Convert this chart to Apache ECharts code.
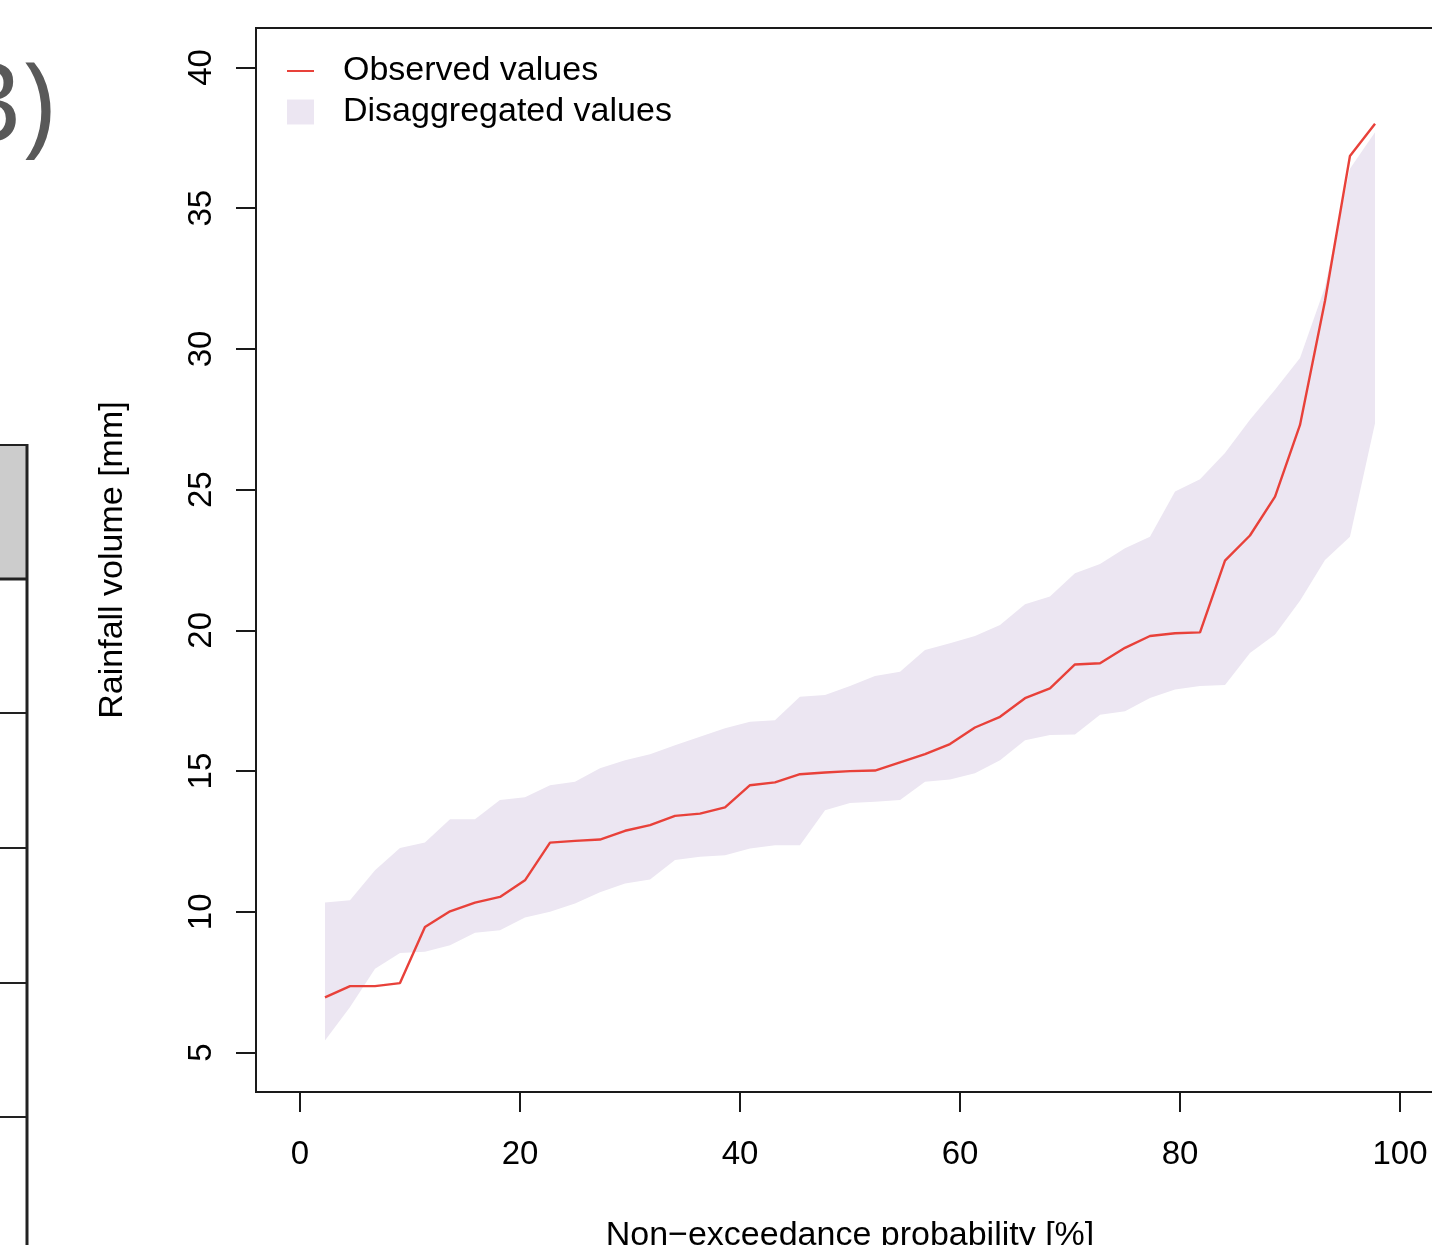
<!DOCTYPE html>
<html>
<head>
<meta charset="utf-8">
<script src="https://cdn.jsdelivr.net/npm/echarts@6/dist/echarts.min.js"></script>
<style>
  html, body { margin: 0; padding: 0; background: #fff; }
  #chart { width: 1432px; height: 1245px; }
</style>
</head>
<body>
<div id="chart"></div>
<script>
// non-exceedance probability of each ranked event [%]
var probX = [2.27, 4.55, 6.82, 9.09, 11.36, 13.64, 15.91, 18.18, 20.45, 22.73,
	25.00, 27.27, 29.55, 31.82, 34.09, 36.36, 38.64, 40.91, 43.18, 45.45,
	47.73, 50.00, 52.27, 54.55, 56.82, 59.09, 61.36, 63.64, 65.91, 68.18,
	70.45, 72.73, 75.00, 77.27, 79.55, 81.82, 84.09, 86.36, 88.64, 90.91,
	93.18, 95.45, 97.73];
// observed rainfall volume [mm]
var observed = [6.96, 7.36, 7.36, 7.47, 9.46, 10.02, 10.33, 10.53, 11.12, 12.46,
	12.52, 12.57, 12.88, 13.08, 13.41, 13.49, 13.71, 14.50, 14.60, 14.89,
	14.95, 15.00, 15.02, 15.31, 15.60, 15.96, 16.55, 16.93, 17.59, 17.94,
	18.79, 18.83, 19.38, 19.80, 19.90, 19.93, 22.48, 23.37, 24.75, 27.30,
	31.70, 36.85, 38.00];
// envelope of the disaggregated values [mm]
var bandUpper = [10.33, 10.41, 11.48, 12.27, 12.46, 13.29, 13.29, 13.97, 14.07, 14.50,
	14.62, 15.10, 15.39, 15.60, 15.92, 16.22, 16.52, 16.75, 16.81, 17.64,
	17.70, 18.02, 18.38, 18.53, 19.30, 19.54, 19.80, 20.19, 20.93, 21.20,
	22.03, 22.36, 22.92, 23.33, 24.93, 25.37, 26.30, 27.48, 28.55, 29.68,
	32.20, 36.40, 37.70];
var bandLower = [5.43, 6.62, 7.98, 8.54, 8.58, 8.81, 9.26, 9.35, 9.80, 10.00,
	10.30, 10.70, 11.01, 11.15, 11.84, 11.96, 12.01, 12.25, 12.37, 12.37,
	13.61, 13.87, 13.91, 13.97, 14.62, 14.70, 14.92, 15.39, 16.10, 16.28,
	16.30, 17.00, 17.13, 17.60, 17.90, 18.02, 18.06, 19.20, 19.85, 21.05,
	22.50, 23.33, 27.36];
var xTicks = [0, 20, 40, 60, 80, 100];
var yTicks = [5, 10, 15, 20, 25, 30, 35, 40];

var lineColor = '#e8413a', bandColor = '#ece6f2', ink = '#1a1a1a';
var font = '"Liberation Sans", Arial, sans-serif';

var obsData = probX.map(function(x, i){ return [x, observed[i]]; });
var bandData = probX.map(function(x, i){ return [x, bandLower[i], bandUpper[i]]; });

function renderBand(params, api){
	if (params.dataIndex !== 0) return null;
	var pts = [], i;
	for (i = 0; i < probX.length; i++) pts.push(api.coord([probX[i], bandUpper[i]]));
	for (i = probX.length - 1; i >= 0; i--) pts.push(api.coord([probX[i], bandLower[i]]));
	return { type: 'polygon', shape: { points: pts }, style: { fill: bandColor } };
}

var option = {
	animation: false,
	backgroundColor: '#fff',
	textStyle: { fontFamily: font },
	grid: {
		left: 256, top: 28, width: 1188, height: 1064,
		show: true, borderColor: ink, borderWidth: 2, backgroundColor: 'transparent',
		containLabel: false, outerBoundsMode: 'none'
	},
	legend: {
		orient: 'vertical', left: 287, top: 54, padding: 0,
		itemWidth: 27, itemHeight: 25, itemGap: 7,
		textStyle: { fontSize: 34, color: '#000', fontFamily: font, padding: [0, 0, 0, 24] },
		data: [
			{ name: 'Observed values', icon: 'path://M0,0 H27 V2 H0 Z', itemStyle: { color: lineColor } },
			{ name: 'Disaggregated values', icon: 'rect', itemStyle: { color: bandColor } }
		]
	},
	xAxis: {
		type: 'value', min: -4, max: 104,
		name: 'Non\u2212exceedance probability [%]', nameLocation: 'middle', nameGap: 127,
		nameTextStyle: { fontSize: 34, color: '#000', fontFamily: font },
		axisLine: { show: false, onZero: false },
		splitLine: { show: false },
		axisTick: { show: true, length: 20, customValues: xTicks, lineStyle: { color: ink, width: 2 } },
		axisLabel: { customValues: xTicks, margin: 46, fontSize: 33, color: '#000', fontFamily: font }
	},
	yAxis: {
		type: 'value', min: 3.6, max: 41.4,
		name: 'Rainfall volume [mm]', nameLocation: 'middle', nameRotate: 90, nameGap: 126,
		nameTextStyle: { fontSize: 34, color: '#000', fontFamily: font },
		axisLine: { show: false, onZero: false },
		splitLine: { show: false },
		axisTick: { show: true, length: 20, customValues: yTicks, lineStyle: { color: ink, width: 2 } },
		axisLabel: { customValues: yTicks, rotate: 90, margin: 38, fontSize: 33, color: '#000', fontFamily: font }
	},
	series: [
		{
			name: 'Disaggregated values', type: 'custom', renderItem: renderBand,
			data: bandData, encode: { x: 0, y: [1, 2] },
			itemStyle: { color: bandColor }, z: 1, silent: true
		},
		{
			name: 'Observed values', type: 'line', data: obsData,
			symbol: 'none', z: 3,
			itemStyle: { color: lineColor },
			lineStyle: { color: lineColor, width: 2.4 }
		}
	],
	graphic: [
		// panel label and table edge from the neighbouring figure
		{ type: 'text', x: 55, y: 110,
			style: { text: 'B)', fill: '#595959', font: '112px "Open Sans", sans-serif', textAlign: 'right', textVerticalAlign: 'middle' } },
		{ type: 'rect', shape: { x: 0, y: 445, width: 27, height: 134 }, style: { fill: '#cccccc' } },
		{ type: 'line', shape: { x1: 0, y1: 445, x2: 28, y2: 445 }, style: { stroke: '#222', lineWidth: 2 } },
		{ type: 'line', shape: { x1: 0, y1: 579, x2: 28, y2: 579 }, style: { stroke: '#222', lineWidth: 3 } },
		{ type: 'line', shape: { x1: 0, y1: 713, x2: 28, y2: 713 }, style: { stroke: '#222', lineWidth: 2 } },
		{ type: 'line', shape: { x1: 0, y1: 848, x2: 28, y2: 848 }, style: { stroke: '#222', lineWidth: 2 } },
		{ type: 'line', shape: { x1: 0, y1: 983, x2: 28, y2: 983 }, style: { stroke: '#222', lineWidth: 2 } },
		{ type: 'line', shape: { x1: 0, y1: 1117, x2: 28, y2: 1117 }, style: { stroke: '#222', lineWidth: 2 } },
		{ type: 'line', shape: { x1: 27, y1: 444, x2: 27, y2: 1245 }, style: { stroke: '#222', lineWidth: 3 } }
	]
};

var chart = echarts.init(document.getElementById('chart'));
chart.setOption(option);
</script>
</body>
</html>
